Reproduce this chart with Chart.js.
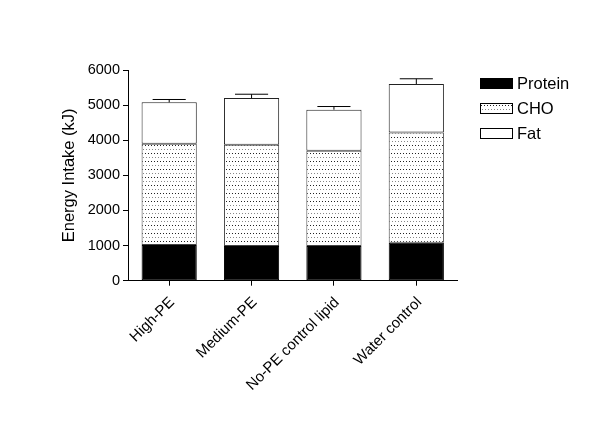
<!DOCTYPE html>
<html>
<head>
<meta charset="utf-8">
<script src="https://cdn.jsdelivr.net/npm/chart.js@4/dist/chart.umd.min.js"></script>
<style>
  html, body { margin: 0; padding: 0; background: #fff; }
  #wrap { width: 600px; height: 427px; }
</style>
</head>
<body>
<div id="wrap"><canvas id="energyChart" width="600" height="427"></canvas></div>
<script>
const groups = ["High-PE", "Medium-PE", "No-PE control lipid", "Water control"];
const protein = [1020, 990, 990, 1080];
const cho = [2880, 2880, 2710, 3140];
const fat = [1180, 1330, 1170, 1380];
const totalErr = [80, 110, 90, 150];
const yTicks = [0, 1000, 2000, 3000, 4000, 5000, 6000];

const FONT = "'Liberation Sans', Arial, sans-serif";

// dotted fill for CHO
const makeDots = () => {
  const c = document.createElement("canvas");
  c.width = 6;
  c.height = 8;
  const g = c.getContext("2d");
  g.fillStyle = "#fff";
  g.fillRect(0, 0, 6, 8);
  g.fillStyle = "#222";
  g.fillRect(1, 1, 1, 1);
  g.fillRect(4, 1, 1, 1);
  g.fillStyle = "#888";
  g.fillRect(2, 5, 1, 1);
  g.fillRect(5, 5, 1, 1);
  return g.createPattern(c, "repeat");
};
const dots = makeDots();

const errorBars = {
  id: "errorBars",
  afterDatasetsDraw(chart) {
    const meta = chart.getDatasetMeta(2);
    const yScale = chart.scales.y;
    const ctx = chart.ctx;
    ctx.save();
    ctx.strokeStyle = "#000";
    ctx.lineWidth = 1;
    meta.data.forEach((bar, i) => {
      const total = protein[i] + cho[i] + fat[i];
      const yTop = yScale.getPixelForValue(total + totalErr[i]);
      const half = bar.width * 0.3;
      ctx.beginPath();
      ctx.moveTo(bar.x, bar.y);
      ctx.lineTo(bar.x, yTop);
      ctx.moveTo(bar.x - half, yTop);
      ctx.lineTo(bar.x + half, yTop);
      ctx.stroke();
    });
    ctx.restore();
  },
};

const sideLegend = {
  id: "sideLegend",
  afterDraw(chart) {
    const ctx = chart.ctx;
    ctx.save();
    ctx.font = "16.5px " + FONT;
    ctx.textBaseline = "middle";
    chart.data.datasets.forEach((ds, i) => {
      const y = 78 + i * 25;
      ctx.fillStyle = ds.backgroundColor;
      ctx.fillRect(480, y, 33, 11);
      ctx.strokeStyle = "#000";
      ctx.lineWidth = 1;
      ctx.strokeRect(480.5, y + 0.5, 32, 10);
      ctx.fillStyle = "#000";
      ctx.fillText(ds.label, 517, y + 6);
    });
    ctx.restore();
  },
};

const barStyle = { barPercentage: 0.67, categoryPercentage: 1, borderWidth: 1, borderSkipped: false };

new Chart(document.getElementById("energyChart").getContext("2d"), {
  type: "bar",
  data: {
    labels: groups,
    datasets: [
      { label: "Protein", data: protein, backgroundColor: "#000", borderColor: "#000", ...barStyle },
      { label: "CHO", data: cho, backgroundColor: dots, borderColor: "#444", ...barStyle },
      { label: "Fat", data: fat, backgroundColor: "#fff", borderColor: "#222", ...barStyle },
    ],
  },
  options: {
    responsive: false,
    animation: false,
    layout: { padding: { left: 52, right: 142.5, top: 70, bottom: 0 } },
    plugins: {
      legend: { display: false },
      tooltip: { enabled: false },
    },
    scales: {
      x: {
        stacked: true,
        grid: { display: true, drawOnChartArea: false, drawTicks: true, tickLength: 5, color: "#000", offset: false },
        border: { display: true, color: "#000", width: 1 },
        ticks: { color: "#000", font: { family: FONT, size: 15 }, minRotation: 45, maxRotation: 45, padding: 8, labelOffset: 3 },
        afterFit: (scale) => { scale.height = 146.3; },
      },
      y: {
        stacked: true,
        min: 0,
        max: 6000,
        afterBuildTicks: (scale) => { scale.ticks = yTicks.map((v) => ({ value: v })); },
        grid: { display: true, drawOnChartArea: false, drawTicks: true, tickLength: 5, color: "#000" },
        border: { display: true, color: "#000", width: 1 },
        ticks: { color: "#000", font: { family: FONT, size: 14.5 }, padding: 3, callback: (v) => String(v) },
        title: { display: true, text: "Energy Intake (kJ)", color: "#000", font: { family: FONT, size: 16.5 }, padding: { top: 8, bottom: 0 } },
        afterFit: (scale) => { scale.width = 76; },
      },
    },
  },
  plugins: [errorBars, sideLegend],
});
</script>
</body>
</html>
